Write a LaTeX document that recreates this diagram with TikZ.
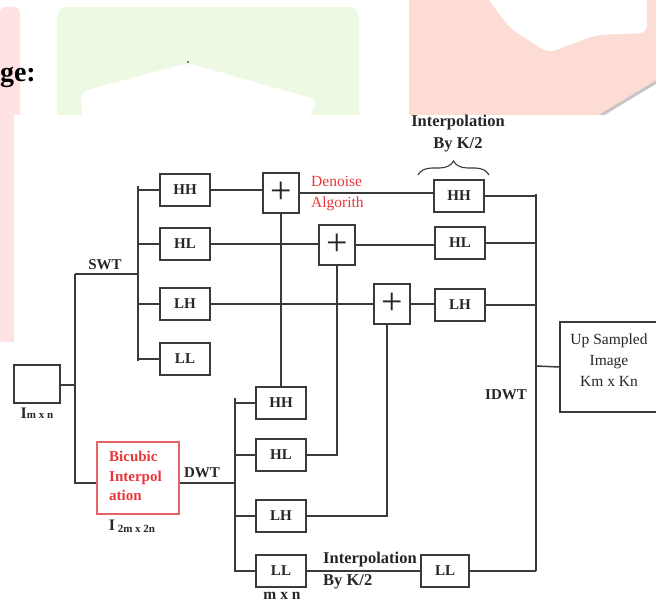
\documentclass[tikz,border=0pt]{standalone}
\usepackage{fontspec}
\setmainfont{Liberation Serif}
\usetikzlibrary{decorations.pathreplacing,calc}
\definecolor{ln}{HTML}{3A3A3A}
\definecolor{redT}{HTML}{E8383A}
\definecolor{redB}{HTML}{E66466}
\definecolor{pinkL}{HTML}{FFE3E3}
\definecolor{pinkR}{HTML}{FDDCD5}
\definecolor{greenL}{HTML}{EEF9E4}
\begin{document}
\begin{tikzpicture}[x=1pt,y=-1pt,
  box/.style={draw=ln, line width=1.5pt, minimum width=50pt, minimum height=32pt, inner sep=0pt,
    font=\fontsize{15}{18}\selectfont\bfseries, text=black!85},
  plusbox/.style={draw=ln, line width=1.5pt, minimum width=36pt, minimum height=40pt, inner sep=0pt,
    font=\fontsize{38}{38}\selectfont, text=black!85},
  wire/.style={draw=ln, line width=1.5pt},
  lbl/.style={inner sep=0pt, text=black!85, font=\fontsize{15}{18}\selectfont\bfseries},
  rlbl/.style={inner sep=0pt, text=black!85, font=\fontsize{15.5}{21}\selectfont},
  biglbl/.style={inner sep=0pt, text=black!85, font=\fontsize{16.5}{22}\selectfont\bfseries}
]
\useasboundingbox (0,0) rectangle (656,604);
\clip (0,0) rectangle (656,604);
% ---------- background watermark ----------
\fill[pinkL, rounded corners=6pt] (0,7) rectangle (20,130);
\fill[pinkL] (0,110) rectangle (14,342);
\fill[greenL, rounded corners=10pt] (57,7) rectangle (359,135);
\fill[white, rounded corners=8pt] (188,63) -- (80,92) -- (84,125) -- (305,125) -- (318,100) -- cycle;
\fill[black] (188,62) circle (0.8);
\fill[pinkR] (409,0) -- (660,0) -- (660,80) -- (600,118) -- (409,118) -- cycle;
\fill[white, rounded corners=8pt] (485,-5) -- (510,28) -- (548,53) -- (596,35) -- (647,33) -- (647,-5) -- cycle;
\draw[gray!45, line width=3pt] (658,81) -- (598,117);
\node[anchor=base east, inner sep=0pt, font=\fontsize{28}{28}\selectfont\bfseries] (ge) at (36,82) {ge:};
\fill[white] (14,115) rectangle (660,610);
% ---------- nodes ----------
\node[box, minimum width=46pt, minimum height=38pt] (in) at (37,384) {};
\node[lbl, anchor=base] (inl) at (37,418) {\fontsize{16}{18}\selectfont I\fontsize{11}{13}\selectfont m x n};

\node[box] (sHH) at (185,190) {HH};
\node[box] (sHL) at (185,244) {HL};
\node[box] (sLH) at (185,304) {LH};
\node[box] (sLL) at (185,359) {LL};

\node[plusbox] (p1) at (281,193) {+};
\node[plusbox] (p2) at (337,245) {+};
\node[plusbox] (p3) at (392,304) {+};

\node[box] (iHH) at (459,196) {HH};
\node[box] (iHL) at (460,243) {HL};
\node[box] (iLH) at (460,305) {LH};

\node[draw=ln, line width=1.5pt, minimum width=98pt, minimum height=90pt, inner sep=0pt] (up) at (609,367) {};
\node[rlbl, align=center] (upl) at (609,360) {Up Sampled\\Image\\Km x Kn};

\node[draw=redB, line width=1.5pt, minimum width=82pt, minimum height=72pt, inner sep=0pt] (bic) at (138,478) {};
\node[lbl, text=redT, align=left, anchor=west, font=\fontsize{15}{19.5}\selectfont\bfseries] (bicl) at (109,476) {Bicubic\\Interpol\\ation};
\node[lbl, anchor=base] (i2l) at (132,530) {\fontsize{16}{18}\selectfont I\,\raisebox{-2pt}{\fontsize{11}{13}\selectfont 2m x 2n}};

\node[box] (dHH) at (281,403) {HH};
\node[box] (dHL) at (281,455) {HL};
\node[box] (dLH) at (281,516) {LH};
\node[box] (dLL) at (281,571) {LL};
\node[box, minimum width=48pt] (iLL) at (445,571) {LL};

% ---------- labels ----------
\node[lbl] (swt) at (105,265) {SWT};
\node[lbl] (dwt) at (202,473) {DWT};
\node[lbl] (idwt) at (506,395) {IDWT};
\node[rlbl, text=redT, align=left, anchor=west] (den) at (311,193.5) {Denoise\\Algorith};
\node[biglbl, align=center] (topint) at (458,134) {Interpolation\\By K/2};
\node[biglbl, align=left, anchor=west] (botint) at (323,570.5) {Interpolation\\By K/2};
\node[lbl, font=\fontsize{15.5}{18}\selectfont\bfseries] (mxn) at (282,596) {m x n};

% brace
\coordinate (brA) at (418,175);
\coordinate (brB) at (489,175);
\draw[ln, line width=1.1pt, decorate, decoration={brace, amplitude=14pt, aspect=0.5}] (brA) -- (brB);

% ---------- connectors ----------
\coordinate (inbus) at (75,385);
\coordinate (swtbus) at (138,274);
\coordinate (dwtbus) at (235,483);
\coordinate (idwtbus) at (536,366);

\draw[wire] (in.east |- inbus) -- (inbus);
\draw[wire] (inbus |- swtbus) -- (swtbus) ;
\draw[wire] (inbus |- swtbus) -- (inbus |- 0,483) -- ([yshift=-5pt]bic.west);
\draw[wire] (swtbus |- 0,186) -- (swtbus |- 0,361);
\foreach \n in {sHH,sHL,sLH,sLL} \draw[wire] (swtbus |- \n.west) -- (\n.west);

\draw[wire] ([yshift=-5pt]bic.east) -- (dwtbus);
\draw[wire] (dwtbus |- 0,398) -- (dwtbus |- 0,572);
\foreach \n in {dHH,dHL,dLH,dLL} \draw[wire] (dwtbus |- \n.west) -- (\n.west);

\draw[wire] (sHH.east) -- (p1.west |- sHH.east);
\draw[wire] (p1.east) -- (iHH.west |- p1.east);
\draw[wire] (sHL.east) -- (p2.west |- sHL.east);
\draw[wire] (p2.east) -- (iHL.west |- p2.east);
\draw[wire] (sLH.east) -- (p3.west |- sLH.east);
\draw[wire] (p3.east) -- (iLH.west |- p3.east);

\draw[wire] (p1.south) -- (p1.south |- dHH.north);
\draw[wire] (dHL.east) -| (p2.south);
\draw[wire] (dLH.east) -| ([xshift=-5pt]p3.south);
\draw[wire] (dLL.east) -- (iLL.west);

\draw[wire] (idwtbus |- 0,194) -- (idwtbus |- iLL.east);
\draw[wire] (iHH.east) -- (idwtbus |- iHH.east);
\draw[wire] (iHL.east) -- (idwtbus |- iHL.east);
\draw[wire] (iLH.east) -- (idwtbus |- iLH.east);
\draw[wire] (iLL.east) -- (idwtbus |- iLL.east);
\draw[wire] (idwtbus) -- (up.west);
\end{tikzpicture}
\end{document}
